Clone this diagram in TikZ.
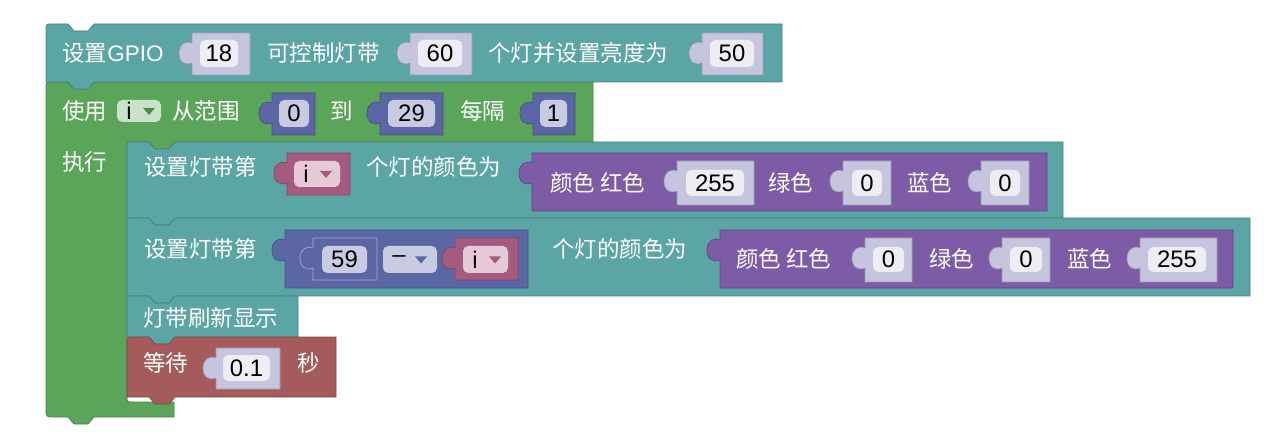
\documentclass[tikz,border=0pt]{standalone}
\usepackage{fontspec}
\newfontfamily\cjk{Noto Sans CJK SC}
\newfontfamily\latin{Liberation Sans}
\definecolor{tealblk}{HTML}{5BA5A5}
\definecolor{loopgreen}{HTML}{5BA55B}
\definecolor{mathblue}{HTML}{5B67A5}
\definecolor{varpink}{HTML}{A55B80}
\definecolor{colourpurple}{HTML}{7D5BA6}
\definecolor{waitred}{HTML}{A55B5B}
\definecolor{slotgrey}{HTML}{C5C5DE}
\definecolor{numfield}{HTML}{EDEDF3}
\definecolor{lavfield}{HTML}{C9CBE2}
\definecolor{greenfield}{HTML}{C9E2C9}
\definecolor{pinkfield}{HTML}{E6CAD8}
\newcommand{\blkfont}{\cjk\fontsize{12.8}{15}\selectfont}
\newcommand{\numfont}{\latin\fontsize{13.6}{15}\selectfont}
\newcommand{\stmtblock}[5]{\filldraw[#5,draw=#5!78!black,line width=.4pt](#1,#2+#4)--(#1,#2+6)..controls(#1,#2)..(#1+6,#2)--(#1+22,#2)--(#1+28,#2+7)--(#1+42,#2+7)--(#1+48,#2)--(#1+#3,#2)--(#1+#3,#2+#4)--(#1+48,#2+#4)--(#1+42,#2+#4+7)--(#1+28,#2+#4+7)--(#1+22,#2+#4)--cycle;}
\newcommand{\valblock}[6][]{\filldraw[#6,draw=#6!78!black,line width=.4pt,#1](#2,#3)--(#2+#4,#3)--(#2+#4,#3+#5)--(#2,#3+#5)--(#2,#3+30)..controls(#2-7,#3+33)and(#2-13,#3+29)..(#2-13,#3+20)..controls(#2-13,#3+12)and(#2-7,#3+7)..(#2,#3+10)--cycle;}
\newcommand{\ddarrow}[3]{\fill[#3](#1-6,#2-3)--(#1+6,#2-3)--(#1,#2+4)--cycle;}

\begin{document}
\begin{tikzpicture}[x=0.02cm,y=-0.02cm,
	lbl/.style={font=\blkfont,text=white,inner sep=0pt,anchor=west},
	num/.style={font=\numfont,text=black,inner sep=0pt},
	field/.style={rounded corners=3pt}]
	\useasboundingbox(0,0)rectangle(1278,442);
	\filldraw[loopgreen,draw=loopgreen!78!black,line width=.4pt](46,409)--(46,88)..controls(46,82)..(52,82)--(68,82)--(74,89)--(88,89)--(94,82)--(593,82)--(593,142)--(175,142)--(169,149)--(155,149)--(149,142)--(133,142)..controls(127,142)..(127,148)--(127,396)..controls(127,402)..(133,402)--(174,402)--(174,417)--(94,417)--(88,424)--(74,424)--(68,417)--(54,417)..controls(46,417)..(46,409)--cycle;
	\node[lbl](uselbl)at(62,111){使用};
	\fill[greenfield,field](117,100)rectangle(161,122);
	\node[num](loopvar)at(129,111){i};
	\ddarrow{149}{111}{loopgreen!85!black}
	\node[lbl](rangelbl)at(172,111){从范围};
	\valblock{272}{93}{43}{42}{mathblue}
	\fill[lavfield,field](279,100)rectangle(309,127)node[midway,num](from){0};
	\node[lbl](tolbl)at(330,111){到};
	\valblock{380}{93}{63}{42}{mathblue}
	\fill[lavfield,field](388,100)rectangle(435,127)node[midway,num](to){29};
	\node[lbl](steplbl)at(460,111){每隔};
	\valblock{533}{93}{42}{42}{mathblue}
	\fill[lavfield,field](540,100)rectangle(567,127)node[midway,num](by){1};
	\node[lbl](dolbl)at(62,162){执行};

	\stmtblock{46}{24}{736}{58}{tealblk}
	\node[lbl](setgpio)at(62,53){设置{\latin GPIO}};
	\valblock{192}{33}{58}{42}{slotgrey}
	\fill[numfield,field](200,40)rectangle(238,67)node[midway,num](pin){18};
	\node[lbl](ctrlstrip)at(267,53){可控制灯带};
	\valblock{410}{33}{62}{42}{slotgrey}
	\fill[numfield,field](418,40)rectangle(462,67)node[midway,num](nleds){60};
	\node[lbl](brightlbl)at(488,53){个灯并设置亮度为};
	\valblock{702}{33}{61}{42}{slotgrey}
	\fill[numfield,field](710,40)rectangle(754,67)node[midway,num](bright){50};

	\stmtblock{127}{142}{936}{76}{tealblk}
	\node[lbl](setpix)at(144,167){设置灯带第};
	\valblock{287}{153}{63}{42}{varpink}
	\fill[pinkfield,field](294,161)rectangle(340,187);
	\node[num](pixvar)at(306,174){i};
	\ddarrow{326}{174}{varpink}
	\node[lbl](colourlbl)at(366,167){个灯的颜色为};
	\valblock{532}{153}{515}{58}{colourpurple}
	\node[lbl](rgblbl)at(550,183){颜色 红色};
	\valblock{677}{161}{77}{44}{slotgrey}
	\fill[numfield,field](686,170)rectangle(744,196)node[midway,num](redA){255};
	\node[lbl](greenA)at(768,183){绿色};
	\valblock{843}{161}{48}{44}{slotgrey}
	\fill[numfield,field](852,170)rectangle(882,196)node[midway,num](grnA){0};
	\node[lbl](blueA)at(907,183){蓝色};
	\valblock{981}{161}{48}{44}{slotgrey}
	\fill[numfield,field](990,170)rectangle(1020,196)node[midway,num](bluA){0};

	\stmtblock{127}{218}{1123}{78}{tealblk}
	\node[lbl](setpixB)at(144,249){设置灯带第};
	\valblock{285}{230}{243}{58}{mathblue}
	\valblock[draw=mathblue!55!white]{313}{238}{64}{42}{mathblue}
	\fill[lavfield,field](322,246)rectangle(367,273)node[midway,num](minuend){59};
	\fill[lavfield,field](383,246)rectangle(437,273);
	\node[num](oplbl)at(399,259.5){–};
	\ddarrow{421}{259.5}{mathblue}
	\valblock{455}{238}{63}{42}{varpink}
	\fill[pinkfield,field](463,246)rectangle(508,273);
	\node[num](subvar)at(475,259.5){i};
	\ddarrow{495}{259.5}{varpink}
	\node[lbl](colourlblB)at(552,249){个灯的颜色为};
	\valblock{720}{230}{513}{58}{colourpurple}
	\node[lbl](rgblblB)at(736,259){颜色 红色};
	\valblock{865}{238}{47}{44}{slotgrey}
	\fill[numfield,field](873,247)rectangle(904,272)node[midway,num](redB){0};
	\node[lbl](greenB)at(929,259){绿色};
	\valblock{1002}{238}{48}{44}{slotgrey}
	\fill[numfield,field](1010,247)rectangle(1042,272)node[midway,num](grnB){0};
	\node[lbl](blueB)at(1067,259){蓝色};
	\valblock{1140}{238}{77}{44}{slotgrey}
	\fill[numfield,field](1148,247)rectangle(1206,272)node[midway,num](bluB){255};

	\stmtblock{127}{296}{171}{41}{tealblk}
	\node[lbl](showlbl)at(143,318){灯带刷新显示};

	\stmtblock{127}{337}{209}{60}{waitred}
	\node[lbl](waitlbl)at(143,363){等待};
	\valblock{216}{348}{64}{41}{slotgrey}
	\fill[numfield,field](223,355)rectangle(270,381)node[midway,num](delay){0.1};
	\node[lbl](seclbl)at(297,363){秒};
\end{tikzpicture}
\end{document}
